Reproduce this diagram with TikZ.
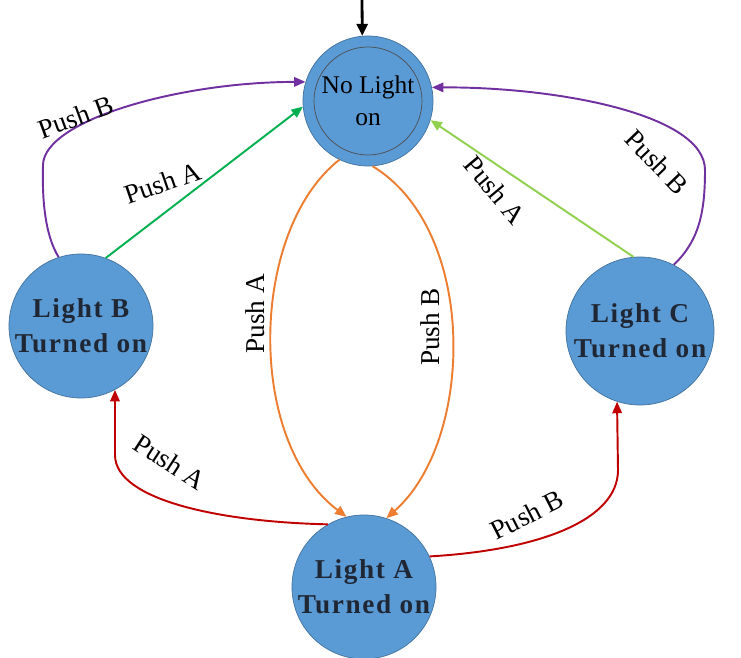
\documentclass[tikz,border=0pt]{standalone}
\usepackage{fontspec}
\setmainfont{Liberation Serif}
\usetikzlibrary{arrows.meta}

\definecolor{lampfill}{HTML}{5B9BD5}
\definecolor{lampedge}{HTML}{41719C}
\definecolor{lamptext}{HTML}{1F2735}
\definecolor{pushpurple}{HTML}{7030A0}
\definecolor{pushgreen}{HTML}{00B050}
\definecolor{pushlime}{HTML}{92D050}
\definecolor{pushorange}{HTML}{ED7D31}
\definecolor{pushred}{HTML}{C00000}

\newcommand{\lampfont}{\fontsize{15.5}{20}\selectfont\bfseries\addfontfeature{LetterSpace=6}}

\begin{document}
\begin{tikzpicture}[x=0.2mm,y=-0.2mm,>={Triangle[length=2.3mm,width=1.9mm]}]
      \tikzstyle{lamp}=[circle,draw=lampedge,fill=lampfill,minimum size=28.8mm,inner sep=0pt,align=center,text=lamptext,font=\lampfont]
      \tikzstyle{off}=[circle,draw=lampedge,fill=lampfill,minimum size=26mm,inner sep=0pt,align=center,font=\fontsize{14.5}{18}\selectfont]
      \tikzstyle{ring}=[circle,draw=black!70,thin,minimum size=21.6mm,inner sep=0pt]
      \tikzstyle{push}=[font=\fontsize{15.5}{18}\selectfont,inner sep=0pt]
      \tikzstyle{wire}=[line width=1.1pt]

      \useasboundingbox (0,0) rectangle (741,658);

      % states
      \node[off](nl) at (368,101){No Light\\on};
      \node[ring](nlring) at (nl){};
      \node[lamp](lb) at (81,326){Light B\\Turned on};
      \node[lamp,minimum size=29.6mm](lc) at (640,331){Light C\\Turned on};
      \node[lamp](la) at (364,587){Light A\\Turned on};

      % start arrow
      \coordinate (init) at (362,0);
      \draw[-{Triangle[length=2.4mm,width=2.2mm]},line width=1.6pt] (init) -- (nl.95);

      % back to no light
      \draw[->,wire,pushpurple] (lb.108) .. controls (45,235) and (42,200) .. (43,165)
        .. controls (44,120) and (180,82) .. (nl.163);
      \draw[->,wire,pushpurple] (lc.63) .. controls (700,240) and (705,210) .. (705,170)
        .. controls (705,115) and (560,87) .. (nl.12);
      \path[->,wire]
      (lb.70) edge[pushgreen] (nl.185)
      (lc.95) edge[pushlime] (nl.-17);

      % no light to light A
      \draw[->,wire,pushorange] (nl.-116) .. controls (250,230) and (245,440) .. (la.104);
      \draw[->,wire,pushorange] (nl.-86) .. controls (478,230) and (475,440) .. (la.72);

      % light A to B and C
      \draw[->,wire,pushred] (la.120) .. controls (220,522) and (115,500) .. (115,455) -- (lb.-62);
      \draw[->,wire,pushred] (la.25) .. controls (540,550) and (618,520) .. (618,470) -- (lc.-108);

      % labels
      \node[push,rotate=20](pbl) at (76,117){Push B};
      \node[push,rotate=19](pal) at (163,183){Push A};
      \node[push,rotate=-50](par) at (495,190){Push A};
      \node[push,rotate=-46](pbr) at (657,162){Push B};
      \node[push,rotate=90](pao) at (255,314){Push A};
      \node[push,rotate=90](pbo) at (430,327){Push B};
      \node[push,rotate=-33](pal2) at (170,462){Push A};
      \node[push,rotate=27](pbl2) at (527,515){Push B};
\end{tikzpicture}
\end{document}
